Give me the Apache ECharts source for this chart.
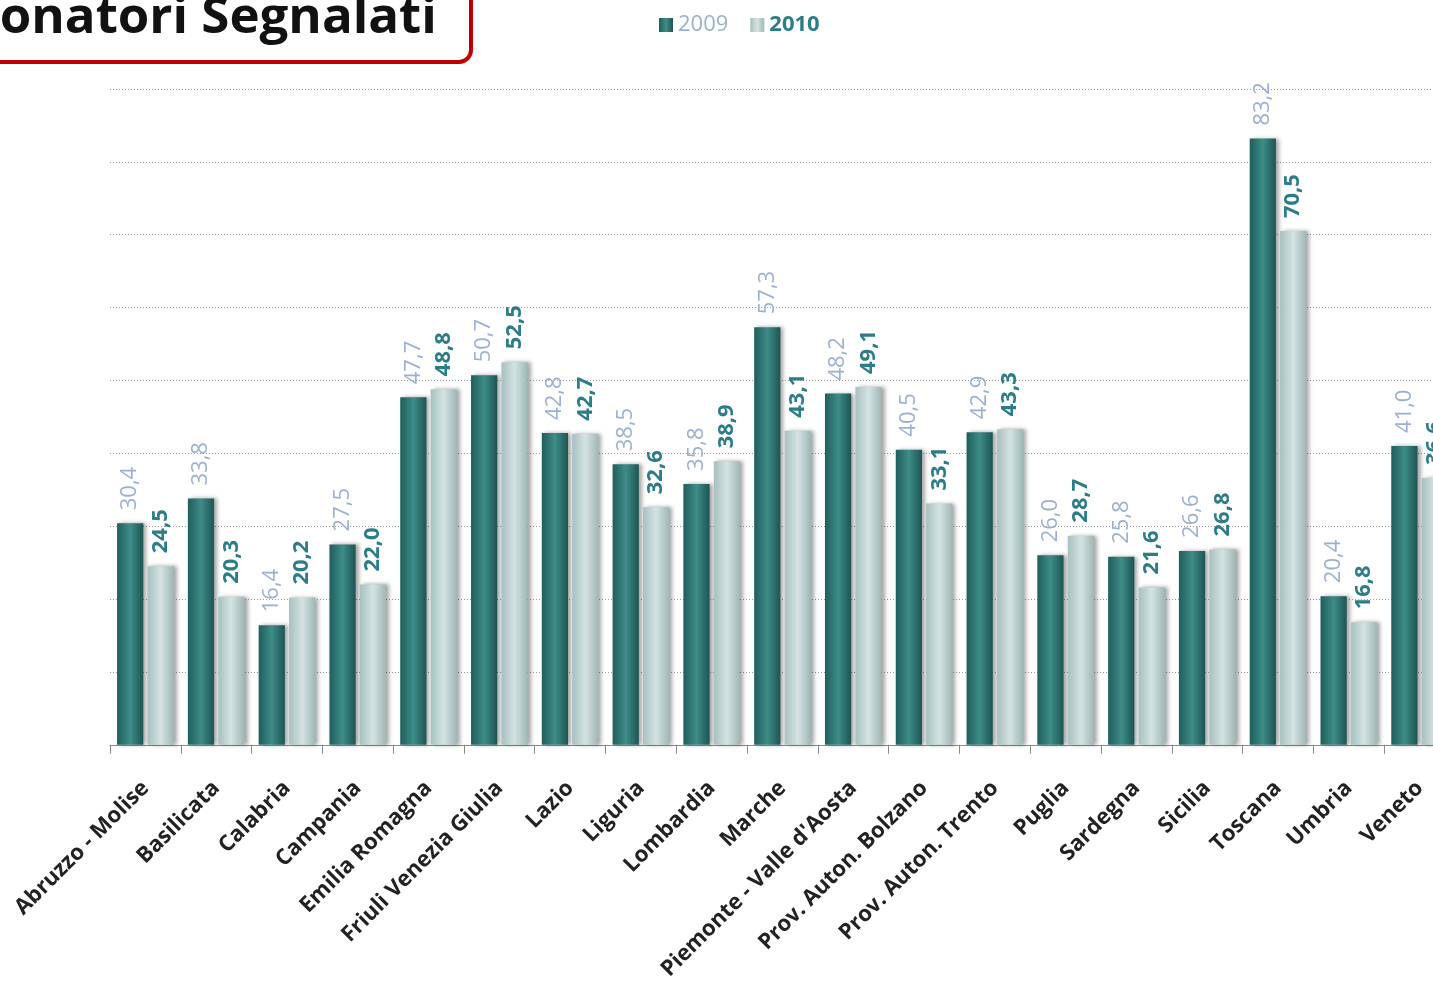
<!DOCTYPE html>
<html>
<head>
<meta charset="utf-8">
<script src="https://cdn.jsdelivr.net/npm/echarts/dist/echarts.min.js"></script>
<style>
html,body{margin:0;padding:0;background:#fff;overflow:hidden;width:1433px;height:983px;}
#chart{width:1455px;height:983px;}
</style>
</head>
<body>
<div id="chart"></div>
<script>
const categories = ["Abruzzo - Molise","Basilicata","Calabria","Campania","Emilia Romagna","Friuli Venezia Giulia","Lazio","Liguria","Lombardia","Marche","Piemonte - Valle d'Aosta","Prov. Auton. Bolzano","Prov. Auton. Trento","Puglia","Sardegna","Sicilia","Toscana","Umbria","Veneto"];
const values2009 = [30.4,33.8,16.4,27.5,47.7,50.7,42.8,38.5,35.8,57.3,48.2,40.5,42.9,26.0,25.8,26.6,83.2,20.4,41.0];
const values2010 = [24.5,20.3,20.2,22.0,48.8,52.5,42.7,32.6,38.9,43.1,49.1,33.1,43.3,28.7,21.6,26.8,70.5,16.8,36.6];
const seriesNames = ["2009","2010"];
const titleText = "Donatori Segnalati";

const fmt = p => p.value.toFixed(1).replace('.', ',');
const grad = (c0, c1, c2) => new echarts.graphic.LinearGradient(0,0,1,0,[
  {offset:0,color:c0},{offset:0.5,color:c1},{offset:1,color:c2}]);

const chart = echarts.init(document.getElementById('chart'), null, {renderer:'canvas'});
chart.setOption({
  animation:false,
  backgroundColor:'#fff',
  graphic:[
    {type:'rect', shape:{x:-20,y:-20,width:491,height:82,r:12},
     style:{fill:'#fff',stroke:'#c00000',lineWidth:4}, z:10},
    {type:'text', left:-38, top:-7, z:11,
     style:{text:titleText, font:'bold 51px "Open Sans"', fill:'#111'}}
  ],
  legend:{
    left:654, top:9, itemWidth:14, itemHeight:14, itemGap:22,
    icon:'rect',
    data:[
      {name:seriesNames[0], textStyle:{color:'#9bb0d2'}},
      {name:seriesNames[1], textStyle:{color:'#2b7d88', fontWeight:'bold'}}
    ],
    textStyle:{fontFamily:'Open Sans', fontSize:22}
  },
  grid:{left:110, right:0, top:89, height:658, containLabel:false},
  xAxis:{
    type:'category', data:categories,
    axisLine:{show:true, lineStyle:{color:'#8a8a8a', width:1}},
    axisTick:{show:true, length:9, lineStyle:{color:'#8a8a8a'}},
    axisLabel:{rotate:45, margin:40, interval:0, color:'#222',
      fontFamily:'Open Sans', fontWeight:'bold', fontSize:22}
  },
  yAxis:{
    type:'value', min:0, max:90, interval:10,
    axisLine:{show:false}, axisTick:{show:false}, axisLabel:{show:false},
    splitLine:{show:true, lineStyle:{color:'#9a9a9a', type:[1,2], width:1}}
  },
  series:[
    {name:seriesNames[0], type:'bar', data:values2009,
     barCategoryGap:'20%', barGap:'16%',
     itemStyle:{color:grad('#1f5e5c','#3e8c88','#1d5553'),
       shadowColor:'rgba(0,0,0,0.35)', shadowBlur:4, shadowOffsetX:3, shadowOffsetY:0},
     label:{show:true, position:'top', rotate:90, align:'left', verticalAlign:'middle',
       distance:13, formatter:fmt, color:'#9bb0d2', fontFamily:'Open Sans', fontSize:22}},
    {name:seriesNames[1], type:'bar', data:values2010,
     barCategoryGap:'20%', barGap:'16%',
     itemStyle:{color:grad('#a7c0bf','#d3e3e2','#9fb7b6'),
       shadowColor:'rgba(0,0,0,0.35)', shadowBlur:4, shadowOffsetX:3, shadowOffsetY:0},
     label:{show:true, position:'top', rotate:90, align:'left', verticalAlign:'middle',
       distance:13, formatter:fmt, color:'#2b7d88', fontFamily:'Open Sans', fontWeight:'bold', fontSize:22}}
  ]
});
</script>
</body>
</html>
